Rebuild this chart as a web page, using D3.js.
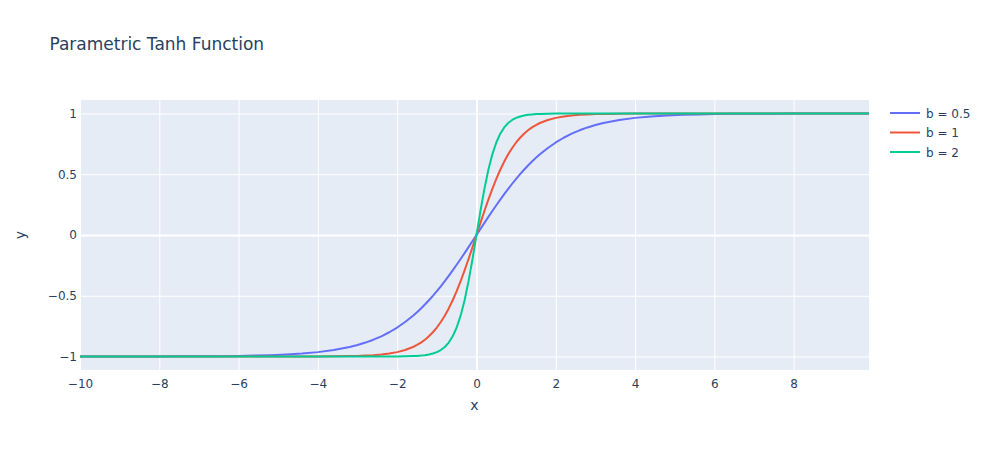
<!DOCTYPE html>
<html>
<head>
<meta charset="utf-8">
<script src="https://cdn.jsdelivr.net/npm/d3@7"></script>
<style>
  html, body { margin: 0; padding: 0; background: #fff; }
  svg { display: block; font-family: "DejaVu Sans", verdana, arial, sans-serif; }
</style>
</head>
<body>
<svg id="chart" width="988" height="450"></svg>
<script>
// ---- data ----
const xValues = [-10, -9, -8, -7.5, -7, -6.5, -6, -5.6, -5.2, -4.8, -4.4, -4.0, -3.6, -3.2, -3.0, -2.8, -2.6, -2.4, -2.2, -2.0, -1.8, -1.6,
  -1.5, -1.4, -1.3, -1.2, -1.1, -1.0, -0.9, -0.8, -0.7, -0.6, -0.5, -0.4, -0.3, -0.2, -0.1, 0,
  0.1, 0.2, 0.3, 0.4, 0.5, 0.6, 0.7, 0.8, 0.9, 1.0, 1.1, 1.2, 1.3, 1.4, 1.5,
  1.6, 1.8, 2.0, 2.2, 2.4, 2.6, 2.8, 3.0, 3.2, 3.6, 4.0, 4.4, 4.8, 5.2, 5.6, 6.0, 6.5, 7.0, 7.5, 8.0, 9.0, 9.9];

const yB05 = [-0.9999, -0.9998, -0.9993, -0.9989, -0.9982, -0.9970, -0.9951, -0.9926, -0.9890, -0.9837, -0.9757, -0.9640, -0.9468, -0.9217, -0.9051, -0.8854, -0.8617, -0.8337, -0.8005, -0.7616, -0.7163, -0.6640,
  -0.6351, -0.6044, -0.5717, -0.5370, -0.5005, -0.4621, -0.4219, -0.3799, -0.3364, -0.2913, -0.2449, -0.1974, -0.1489, -0.0997, -0.0500, 0,
  0.0500, 0.0997, 0.1489, 0.1974, 0.2449, 0.2913, 0.3364, 0.3799, 0.4219, 0.4621, 0.5005, 0.5370, 0.5717, 0.6044, 0.6351,
  0.6640, 0.7163, 0.7616, 0.8005, 0.8337, 0.8617, 0.8854, 0.9051, 0.9217, 0.9468, 0.9640, 0.9757, 0.9837, 0.9890, 0.9926, 0.9951, 0.9970, 0.9982, 0.9989, 0.9993, 0.9998, 0.9999];

const yB1 = [-1, -1, -1, -1, -1, -1, -1, -1, -1, -0.9999, -0.9997, -0.9993, -0.9985, -0.9967, -0.9951, -0.9926, -0.9890, -0.9837, -0.9757, -0.9640, -0.9468, -0.9217,
  -0.9051, -0.8854, -0.8617, -0.8337, -0.8005, -0.7616, -0.7163, -0.6640, -0.6044, -0.5370, -0.4621, -0.3799, -0.2913, -0.1974, -0.0997, 0,
  0.0997, 0.1974, 0.2913, 0.3799, 0.4621, 0.5370, 0.6044, 0.6640, 0.7163, 0.7616, 0.8005, 0.8337, 0.8617, 0.8854, 0.9051,
  0.9217, 0.9468, 0.9640, 0.9757, 0.9837, 0.9890, 0.9926, 0.9951, 0.9967, 0.9985, 0.9993, 0.9997, 0.9999, 1, 1, 1, 1, 1, 1, 1, 1, 1];

const yB2 = [-1, -1, -1, -1, -1, -1, -1, -1, -1, -1, -1, -1, -1, -1, -1, -1, -0.9999, -0.9998, -0.9997, -0.9993, -0.9985, -0.9967,
  -0.9951, -0.9926, -0.9890, -0.9837, -0.9757, -0.9640, -0.9468, -0.9217, -0.8854, -0.8337, -0.7616, -0.6640, -0.5370, -0.3799, -0.1974, 0,
  0.1974, 0.3799, 0.5370, 0.6640, 0.7616, 0.8337, 0.8854, 0.9217, 0.9468, 0.9640, 0.9757, 0.9837, 0.9890, 0.9926, 0.9951,
  0.9967, 0.9985, 0.9993, 0.9997, 0.9998, 0.9999, 1, 1, 1, 1, 1, 1, 1, 1, 1, 1, 1, 1, 1, 1, 1, 1];

const seriesNames = ["b = 0.5", "b = 1", "b = 2"];
const seriesColors = ["#636efa", "#EF553B", "#00cc96"];
const seriesValues = [yB05, yB1, yB2];

const xTicks = [-10, -8, -6, -4, -2, 0, 2, 4, 6, 8];
const yTicks = [-1, -0.5, 0, 0.5, 1];

const titleText = "Parametric Tanh Function";
const xTitle = "x";
const yTitle = "y";

// ---- layout ----
const W = 988, H = 450;
const plot = { left: 80, top: 100, right: 869, bottom: 370 };
const FONT = '"DejaVu Sans", verdana, arial, sans-serif';

const svg = d3.select("#chart");

const x = d3.scaleLinear().domain([-10, 9.9]).range([plot.left, plot.right]);
const y = d3.scaleLinear().domain([-1.1111, 1.1111]).range([plot.bottom, plot.top]);

const fmt = v => {
  const s = String(v);
  return v < 0 ? "\u2212" + s.slice(1) : s;
};

// background
svg.append("rect")
  .attr("x", plot.left).attr("y", plot.top)
  .attr("width", plot.right - plot.left).attr("height", plot.bottom - plot.top)
  .attr("fill", "#E5ECF6");

// grid via axes
const xGrid = svg.append("g")
  .attr("transform", `translate(0,${plot.bottom})`)
  .call(d3.axisBottom(x).tickValues(xTicks).tickSize(-(plot.bottom - plot.top)).tickFormat(""));
xGrid.select(".domain").remove();
xGrid.selectAll("line").attr("stroke", "#fff").attr("stroke-width", d => d === 0 ? 2 : 1);

const yGrid = svg.append("g")
  .attr("transform", `translate(${plot.left},0)`)
  .call(d3.axisLeft(y).tickValues(yTicks).tickSize(-(plot.right - plot.left)).tickFormat(""));
yGrid.select(".domain").remove();
yGrid.selectAll("line").attr("stroke", "#fff").attr("stroke-width", d => d === 0 ? 2 : 1);

// tick labels via axes
const xAxis = svg.append("g")
  .attr("transform", `translate(0,${plot.bottom})`)
  .call(d3.axisBottom(x).tickValues(xTicks).tickSize(0).tickPadding(9).tickFormat(fmt));
xAxis.select(".domain").remove();
xAxis.selectAll("text").attr("fill", "#2a3f5f").attr("font-size", 12).attr("font-family", FONT);

const yAxis = svg.append("g")
  .attr("transform", `translate(${plot.left},0)`)
  .call(d3.axisLeft(y).tickValues(yTicks).tickSize(0).tickPadding(3).tickFormat(fmt));
yAxis.select(".domain").remove();
yAxis.selectAll("text").attr("fill", "#2a3f5f").attr("font-size", 12).attr("font-family", FONT);

// lines
svg.append("clipPath").attr("id", "clip")
  .append("rect").attr("x", plot.left).attr("y", plot.top)
  .attr("width", plot.right - plot.left).attr("height", plot.bottom - plot.top);

const line = d3.line().x((d, i) => x(xValues[i])).y(d => y(d));
const lines = svg.append("g").attr("clip-path", "url(#clip)");
seriesValues.forEach((vals, k) => {
  lines.append("path")
    .datum(vals)
    .attr("d", line)
    .attr("fill", "none")
    .attr("stroke", seriesColors[k])
    .attr("stroke-width", 2)
    .attr("stroke-linejoin", "round");
});

// title
svg.append("text")
  .attr("x", 49.4).attr("y", 50)
  .attr("fill", "#2a3f5f").attr("font-size", 17).attr("font-family", FONT)
  .text(titleText);

// axis titles
svg.append("text")
  .attr("x", (plot.left + plot.right) / 2).attr("y", 410)
  .attr("text-anchor", "middle")
  .attr("fill", "#2a3f5f").attr("font-size", 14).attr("font-family", FONT)
  .text(xTitle);

svg.append("text")
  .attr("transform", `translate(25,${(plot.top + plot.bottom) / 2}) rotate(-90)`)
  .attr("text-anchor", "middle")
  .attr("fill", "#2a3f5f").attr("font-size", 14).attr("font-family", FONT)
  .text(yTitle);

// legend
const legend = svg.append("g").attr("transform", "translate(890,113)");
seriesNames.forEach((name, k) => {
  const g = legend.append("g").attr("transform", `translate(0,${k * 19.5})`);
  g.append("line").attr("x1", 0).attr("x2", 30).attr("y1", 0).attr("y2", 0)
    .attr("stroke", seriesColors[k]).attr("stroke-width", 2);
  g.append("text").attr("x", 36).attr("y", 4.5)
    .attr("fill", "#2a3f5f").attr("font-size", 12).attr("font-family", FONT)
    .text(name);
});
</script>
</body>
</html>
